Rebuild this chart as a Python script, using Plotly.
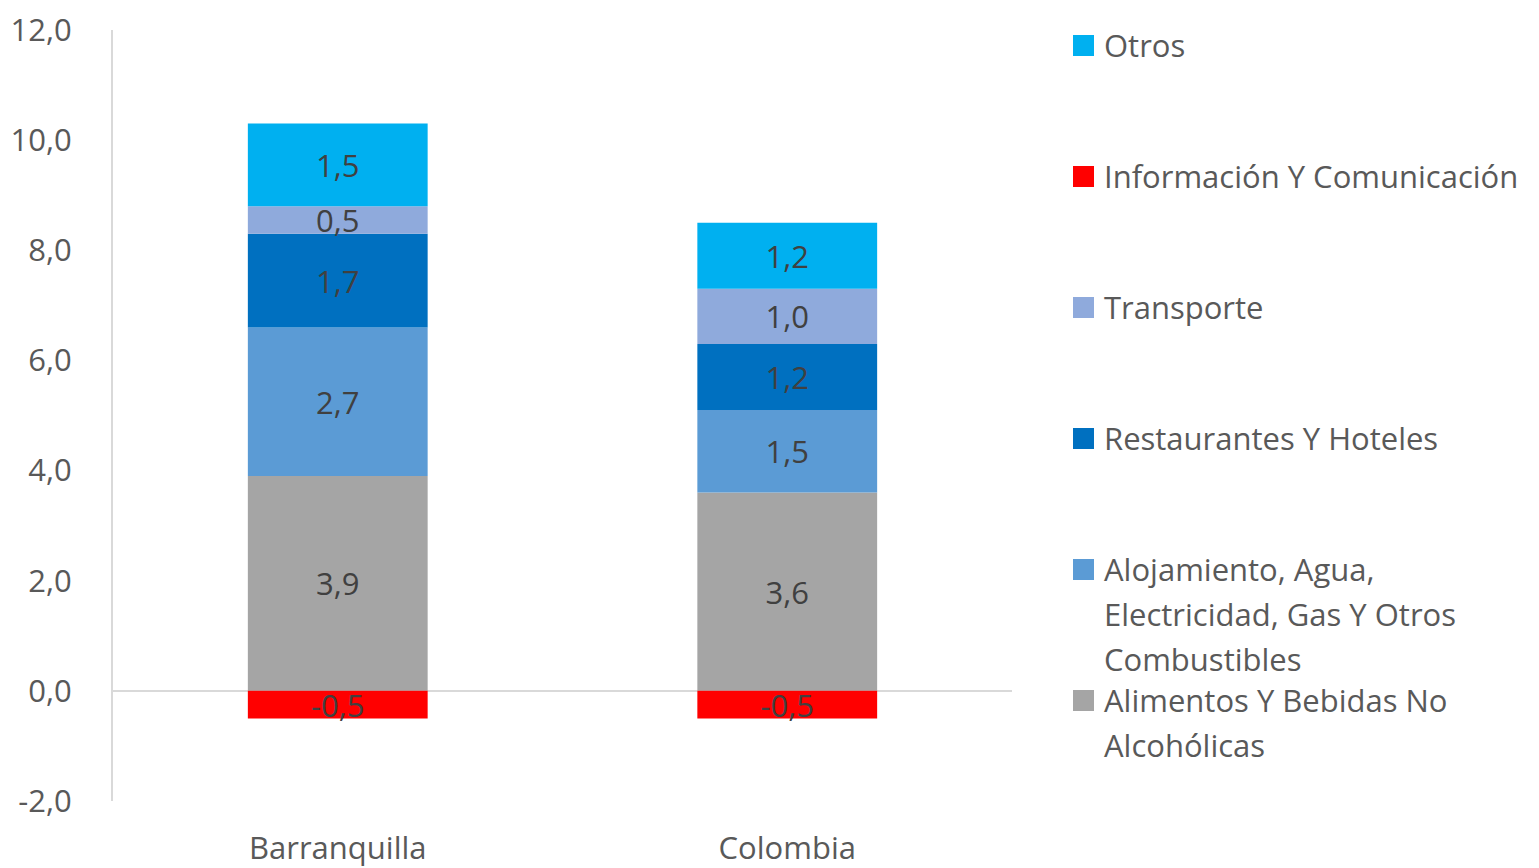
import plotly.graph_objects as go

# Contribution by group (percentage points), Spanish decimal comma in labels
categories = ["Barranquilla", "Colombia"]

series_names = [
    "Alimentos Y Bebidas No<br>Alcohólicas",
    "Alojamiento, Agua,<br>Electricidad, Gas Y Otros<br>Combustibles",
    "Restaurantes Y Hoteles",
    "Transporte",
    "Información Y Comunicación",
    "Otros",
]
alimentos = [3.9, 3.6]
alojamiento = [2.7, 1.5]
restaurantes = [1.7, 1.2]
transporte = [0.5, 1.0]
informacion = [-0.5, -0.5]
otros = [1.5, 1.2]
series_values = [alimentos, alojamiento, restaurantes, transporte, informacion, otros]

series_colors = ["#A5A5A5", "#5B9BD5", "#0070C0", "#8FAADC", "#FF0000", "#00B0F0"]

y_ticks = [-2, 0, 2, 4, 6, 8, 10, 12]
y_tick_labels = ["-2,0", "0,0", "2,0", "4,0", "6,0", "8,0", "10,0", "12,0"]


def fmt(v):
    return f"{v:.1f}".replace(".", ",")


FONT = "Open Sans"
FS = 31
AXIS_TEXT = "#595959"
LABEL_TEXT = "#404040"

fig = go.Figure()
for name, vals, color in zip(series_names, series_values, series_colors):
    fig.add_trace(go.Bar(
        x=categories,
        y=vals,
        name=name,
        width=0.4,
        marker=dict(color=color, line=dict(width=0)),
        text=[fmt(v) for v in vals],
        texttemplate="%{text}",
        textposition="inside",
        insidetextanchor="middle",
        constraintext="none",
        textangle=0,
        textfont=dict(family=FONT, size=FS, color=LABEL_TEXT),
        showlegend=False,
    ))

# Plot area geometry in pixels (used for placing the custom legend)
W, H = 1539, 868
L, R, T, B = 113, 527, 30, 67
pw, ph = W - L - R, H - T - B


def px_to_paper(x, y):
    return (x - L) / pw, (H - B - y) / ph


# Legend: top-down order with a coloured square and wrapped text
legend_order = [5, 4, 3, 2, 1, 0]
first_line_y = [45, 176, 307, 438, 569, 700]
line_gap = 45
for idx, y0 in zip(legend_order, first_line_y):
    sx0, sy0 = px_to_paper(1073, y0 - 10)
    sx1, sy1 = px_to_paper(1094, y0 + 11)
    fig.add_shape(type="rect", xref="paper", yref="paper",
                  x0=sx0, x1=sx1, y0=sy1, y1=sy0,
                  fillcolor=series_colors[idx], line=dict(width=0))
    for k, line in enumerate(series_names[idx].split("<br>")):
        tx, ty = px_to_paper(1102, y0 + k * line_gap)
        fig.add_annotation(xref="paper", yref="paper", x=tx, y=ty,
                           xanchor="left", yanchor="middle", showarrow=False,
                           text=line, font=dict(family=FONT, size=FS, color=AXIS_TEXT))

fig.update_layout(
    width=W, height=H,
    barmode="relative",
    plot_bgcolor="white",
    paper_bgcolor="white",
    margin=dict(l=L, r=R, t=T, b=B, autoexpand=False),
    font=dict(family=FONT, size=FS, color=AXIS_TEXT),
    showlegend=False,
)
fig.update_xaxes(
    range=[-0.5, 1.5],
    automargin=False,
    showgrid=False,
    showline=False,
    ticks="",
    ticklabelstandoff=26,
    tickfont=dict(family=FONT, size=FS, color=AXIS_TEXT),
)
fig.update_yaxes(
    range=[-2, 12],
    automargin=False,
    tickvals=y_ticks,
    ticktext=y_tick_labels,
    showgrid=False,
    showline=True,
    linecolor="#D9D9D9",
    linewidth=2,
    zeroline=True,
    zerolinecolor="#D9D9D9",
    zerolinewidth=2,
    ticks="",
    ticklabelstandoff=33,
    tickfont=dict(family=FONT, size=FS, color=AXIS_TEXT),
)

fig.write_html("out.html")
